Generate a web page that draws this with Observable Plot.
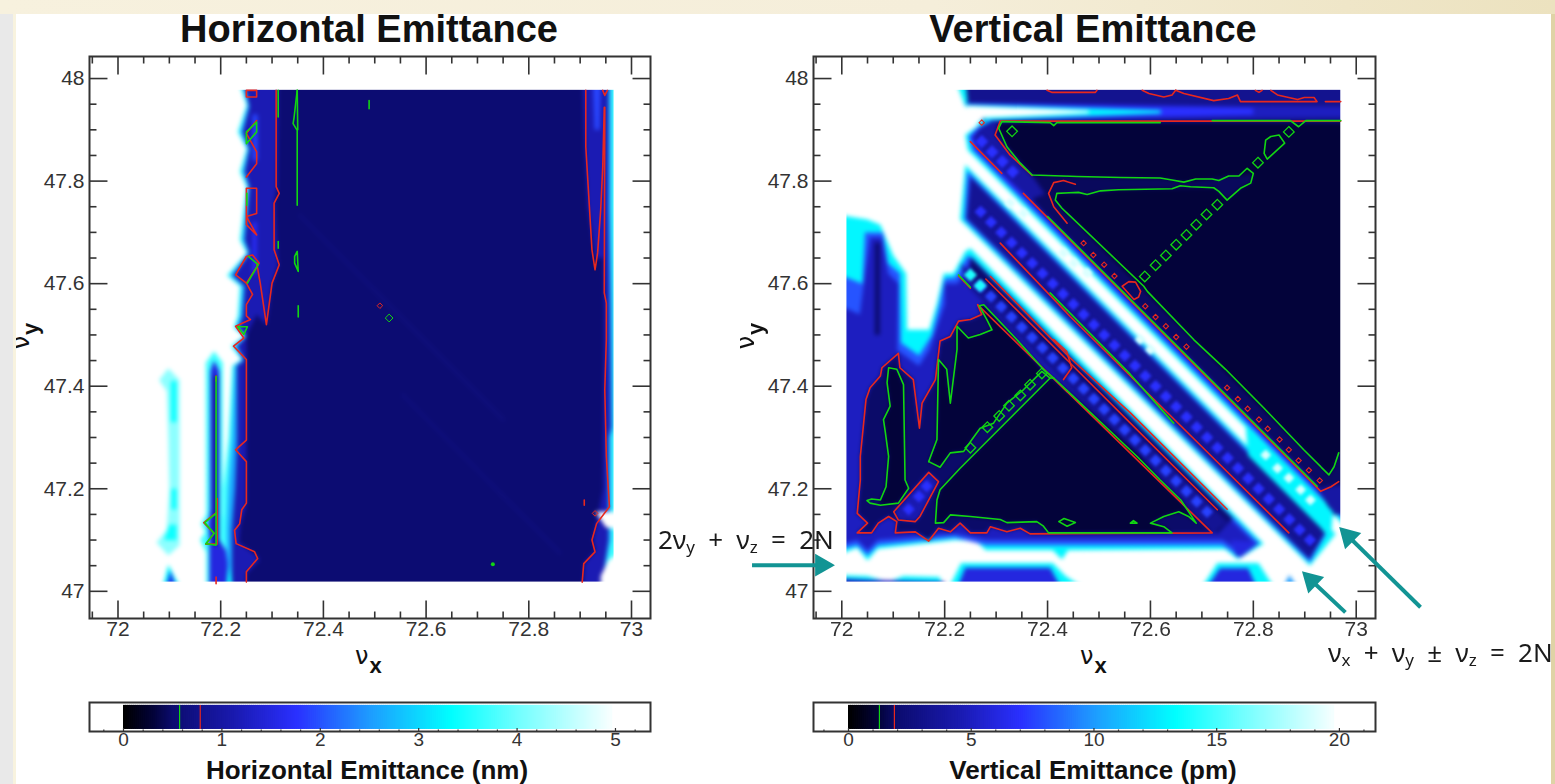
<!DOCTYPE html>
<html><head><meta charset="utf-8">
<script src="https://cdn.jsdelivr.net/npm/d3@7"></script>
<script src="https://cdn.jsdelivr.net/npm/@observablehq/plot@0.6"></script>
<style>
html,body{margin:0;padding:0;background:#fff;overflow:hidden}
#page{position:relative;width:1555px;height:784px;overflow:hidden;background:#fff;font-family:"Liberation Sans",sans-serif}
.panel{position:absolute}
.panel svg{overflow:visible;background:transparent!important}
.heat{filter:blur(2px)}
.heatL{filter:blur(2.2px)}
.dots{filter:blur(1.4px)}
.soft{filter:blur(.35px)}
.title{position:absolute;top:7px;font:bold 38px/44px "Liberation Sans";color:#111;transform:translateX(-50%);white-space:nowrap}
.barlabel{position:absolute;top:755px;font:bold 26px/30px "Liberation Sans";color:#111;transform:translateX(-50%);white-space:nowrap}
.nu{position:absolute;white-space:nowrap;color:#111}
.nu .g{font:24px "DejaVu Sans"}
.nu .s{font:bold 22px "Liberation Sans";position:relative;top:9px;margin-left:1px}
.ann{position:absolute;white-space:nowrap;font:26px/20px "Noto Sans";color:#1a1a1a;word-spacing:6.5px}
.ann sub{font-size:17px;vertical-align:-4px;line-height:0}
.strip{position:absolute;z-index:5}
</style></head><body>
<div id="page">
<div class="strip" style="left:0;top:0;width:1555px;height:14px;background:linear-gradient(90deg,#f7f1de,#f5eeda 60%,#ece2bf)"></div>
<div class="strip" style="left:0;top:14px;width:13px;height:770px;background:#e9e9e9"></div>
<div class="strip" style="left:13px;top:14px;width:3px;height:770px;background:#f8f3df"></div>
<div class="strip" style="left:1551px;top:14px;width:4px;height:770px;background:#dfd3a6"></div>
<div class="title" style="left:369px">Horizontal Emittance</div>
<div class="title" style="left:1093px">Vertical Emittance</div>
<div class="panel" id="left" style="left:0;top:0"></div>
<div class="panel" id="right" style="left:640px;top:0"></div>
<div class="panel" id="barL" style="left:0;top:690px"></div>
<div class="panel" id="barR" style="left:640px;top:690px"></div>
<div class="barlabel" style="left:367px">Horizontal Emittance (nm)</div>
<div class="barlabel" style="left:1093px">Vertical Emittance (pm)</div>
<div class="nu" style="left:355px;top:642px"><span class="g">ν</span><span class="s">x</span></div>
<div class="nu" style="left:1080px;top:642px"><span class="g">ν</span><span class="s">x</span></div>
<div class="nu" style="left:8px;top:322px;transform:rotate(-90deg)"><span class="g">ν</span><span class="s">y</span></div>
<div class="nu" style="left:733px;top:322px;transform:rotate(-90deg)"><span class="g">ν</span><span class="s">y</span></div>
<div class="ann" style="left:658px;top:529px">2ν<sub>y</sub> + ν<sub>z</sub> = 2N</div>
<div class="ann" style="left:1328px;top:642px">ν<sub>x</sub> + ν<sub>y</sub> ± ν<sub>z</sub> = 2N</div>
</div>
<script>
// ---------- colour ramps ----------
const rampColors=["#000000","#03033a","#0c0c70","#1a1ab0","#2a30ff","#1e9cff","#00ffff","#70ffff","#ffffff"];
const stopsPm=[0,1.2,2,4.5,7,10,13.3,16,20];
const stopsNm=[0,0.3,0.5,1.125,1.75,2.5,3.325,4,5];
const contourL={green:0.57,red:0.78};
const contourR={green:1.26,red:1.87};

// ---------- shared ticks ----------
const xMajor=[72,72.2,72.4,72.6,72.8,73];
const xMinor=[71.95,72.05,72.1,72.15,72.25,72.3,72.35,72.45,72.5,72.55,72.65,72.7,72.75,72.85,72.9,72.95];
const yMajor=[47,47.2,47.4,47.6,47.8,48];
const yMinor=[47.05,47.1,47.15,47.25,47.3,47.35,47.45,47.5,47.55,47.65,47.7,47.75,47.85,47.9,47.95];

// ---------- left panel: filled levels (nm) ----------
const lOuter=[[72.233,48],[72.25,47.948],[72.233,47.896],[72.25,47.863],[72.237,47.818],[72.25,47.789],[72.237,47.685],[72.25,47.66],[72.212,47.616],[72.237,47.595],[72.233,47.537],[72.225,47.514],[72.245,47.498],[72.22,47.478],[72.24,47.452],[72.222,47.44],[72.215,47.3],[72.205,47.2],[72.205,47],[73,47],[73,48]];
const lColumn=[[72.172,47],[72.172,47.075],[72.16,47.1],[72.17,47.115],[72.162,47.132],[72.172,47.15],[72.171,47.446],[72.187,47.468],[72.204,47.446],[72.204,47.15],[72.215,47.1],[72.215,47]];
const lMiddle=[[72.238,48],[72.253,47.948],[72.238,47.896],[72.253,47.863],[72.242,47.818],[72.253,47.789],[72.242,47.685],[72.253,47.66],[72.218,47.616],[72.242,47.595],[72.238,47.537],[72.23,47.514],[72.248,47.498],[72.226,47.478],[72.243,47.452],[72.227,47.44],[72.222,47.3],[72.215,47.2],[72.212,47.12],[72.212,47],[72.94,47],[72.96,47.1],[72.96,47.3],[72.965,47.32],[72.963,47.55],[72.96,47.75],[72.96,48]];
const lInner=[[72.243,48],[72.256,47.945],[72.243,47.896],[72.256,47.863],[72.247,47.818],[72.256,47.789],[72.247,47.685],[72.256,47.66],[72.224,47.616],[72.247,47.595],[72.243,47.537],[72.235,47.514],[72.25,47.498],[72.232,47.478],[72.245,47.45],[72.232,47.44],[72.232,47.3],[72.228,47.2],[72.222,47.12],[72.222,47],[72.94,47],[72.955,47.1],[72.955,47.3],[72.96,47.32],[72.958,47.55],[72.955,47.75],[72.955,48]];
const lColumnInner=[[72.178,47],[72.178,47.1],[72.176,47.13],[72.18,47.16],[72.18,47.43],[72.187,47.45],[72.197,47.43],[72.197,47.1],[72.21,47.08],[72.22,47],[72.2,47]];
const lColumnDark=[[72.185,47.42],[72.195,47.42],[72.195,47.09],[72.185,47.09]];
const lNavy=[[72.312,48],[72.31,47.79],[72.305,47.76],[72.31,47.66],[72.312,47.635],[72.3,47.6],[72.289,47.52],[72.27,47.54],[72.25,47.5],[72.25,47.17],[72.238,47.13],[72.235,47.095],[72.27,47.07],[72.275,47.06],[72.25,47.035],[72.25,47],[72.905,47],[72.908,47.054],[72.93,47.08],[72.925,47.1],[72.932,47.135],[72.945,47.2],[72.947,47.55],[72.945,47.65],[72.93,47.65],[72.915,47.75],[72.908,47.9],[72.905,48]];
const lHotLeft=[[72.262,47.93],[72.272,47.93],[72.272,47.84],[72.262,47.84]];
const lHotRight=[[72.925,47.985],[72.94,47.985],[72.938,47.9],[72.928,47.9]];
const lHotLeft2=[[72.262,47.72],[72.27,47.72],[72.27,47.62],[72.262,47.62]];
const lWhiteR1=[[72.93,47.155],[73,47.155],[73,47.115],[72.95,47.125]];
const lWhiteR2=[[72.94,47],[72.94,47.03],[72.955,47.06],[72.968,47.07],[73,47.07],[73,47]];
const lPale=[[72.08,47.412],[72.098,47.435],[72.12,47.412],[72.12,47.09],[72.098,47.07],[72.075,47.095],[72.095,47.12],[72.1,47.2],[72.098,47.3],[72.095,47.39]];
const lPale2=[[72.103,47.41],[72.114,47.41],[72.114,47.33],[72.103,47.33]];
const lPale3=[[72.104,47.2],[72.114,47.2],[72.114,47.16],[72.104,47.16]];
const lPale4=[[72.09,47.1],[72.114,47.1],[72.114,47.13],[72.1,47.13]];
const lFoot=[[72.085,47],[72.098,47.052],[72.125,47]];
const lFoot2=[[72.092,47],[72.102,47.04],[72.116,47]];
const lFootPale=[[72.21,47],[72.215,47.055],[72.225,47]];
const lFaint1=[[72.35,47.733],[72.355,47.737],[72.755,47.335],[72.75,47.33]];
const lFaint2=[[72.55,47.383],[72.555,47.387],[72.865,47.075],[72.86,47.07]];
const leftLayers=[[3.7,lOuter],[3.7,lColumn],[4.2,lPale],[3.4,lPale2],[3.4,lPale3],[3.4,lPale4],[3.3,lFoot],[1.6,lFoot2],[2.6,lMiddle],[1.15,lInner],[1.5,lColumnInner],[0.9,lColumnDark],[3.4,lFootPale],[1.9,lHotLeft],[1.7,lHotLeft2],[1.9,lHotRight],[0.52,lNavy],[0.62,lFaint1],[0.62,lFaint2],[5,lWhiteR1],[5,lWhiteR2]];

// left contours
const lRed=[
[[72.25,47.977],[72.27,47.977],[72.27,47.964],[72.25,47.964],[72.25,47.977]],
[[72.27,47.918],[72.25,47.893],[72.27,47.857],[72.27,47.834],[72.25,47.808]],
[[72.25,47.786],[72.27,47.786],[72.27,47.737],[72.25,47.731],[72.27,47.695],[72.25,47.715],[72.25,47.786]],
[[72.25,47.653],[72.262,47.656],[72.275,47.64],[72.25,47.601],[72.229,47.617],[72.25,47.653]],
[[72.308,47.977],[72.308,47.789],[72.314,47.776],[72.304,47.757],[72.304,47.666],[72.314,47.637],[72.3,47.601],[72.289,47.52],[72.277,47.601],[72.27,47.64]],
[[72.25,47.601],[72.262,47.579],[72.25,47.559],[72.25,47.537],[72.258,47.53],[72.229,47.517],[72.245,47.494],[72.225,47.478],[72.25,47.452],[72.25,47.295],[72.229,47.276],[72.25,47.253],[72.25,47.172],[72.241,47.159],[72.237,47.132],[72.227,47.119],[72.23,47.093],[72.266,47.077],[72.272,47.064],[72.25,47.038],[72.25,47.018]],
[[72.911,47.977],[72.911,47.867],[72.918,47.75],[72.923,47.666],[72.929,47.627],[72.934,47.66],[72.94,47.744],[72.944,47.828],[72.947,47.944],[72.948,47.944],[72.947,47.582],[72.951,47.562],[72.951,47.491],[72.948,47.393],[72.951,47.263],[72.957,47.165],[72.932,47.132],[72.923,47.1],[72.929,47.077],[72.907,47.054],[72.904,47.018]],
[[72.944,47.977],[72.948,47.967],[72.953,47.977]],
[[72.193,47.181],[72.193,47.092],[72.171,47.092],[72.187,47.113],[72.167,47.134],[72.191,47.153]],
[[72.191,47.42],[72.191,47.41]],
[[72.191,47.028],[72.191,47.015]],
[[72.908,47.178],[72.908,47.168]]
];
const lGreen=[
[[72.25,47.896],[72.27,47.915],[72.27,47.896],[72.25,47.873],[72.25,47.896]],
[[72.251,47.776],[72.251,47.753]],
[[72.254,47.653],[72.273,47.637],[72.252,47.601]],
[[72.233,47.516],[72.252,47.516],[72.245,47.501],[72.233,47.516]],
[[72.312,47.977],[72.312,47.925]],
[[72.312,47.682],[72.312,47.669]],
[[72.349,47.977],[72.343,47.925],[72.341,47.912],[72.349,47.899],[72.349,47.753]],
[[72.349,47.977],[72.35,47.9]],
[[72.344,47.653],[72.349,47.663],[72.351,47.624],[72.344,47.64],[72.344,47.653]],
[[72.351,47.557],[72.351,47.535]],
[[72.489,47.957],[72.489,47.941]],
[[72.191,47.419],[72.191,47.09],[72.171,47.093],[72.187,47.113],[72.169,47.134],[72.191,47.152]]
];
const lDiaG={x:[72.528],y:[47.533]};
const lDiaR={x:[72.51,72.929],y:[47.557,47.152]};
const lDotG={x:[72.73],y:[47.053]};

// ---------- right panel: filled levels (pm) ----------
const stCyan=[[72.22,48],[73,48],[73,47.91],[72.26,47.91],[72.28,47.925],[72.24,47.945]];
const stBase=[[72.24,48],[73,48],[73,47.917],[72.27,47.917],[72.285,47.93],[72.245,47.952]];
const stBlue=[[72.24,47.953],[73,47.945],[73,47.925],[72.28,47.917]];
const stBright=[[72.24,47.952],[72.8,47.942],[72.8,47.93],[72.28,47.918]];
const stCyan2=[[72.24,47.95],[72.62,47.938],[72.62,47.932],[72.28,47.918]];
const stWhite=[[72.24,47.947],[72.48,47.937],[72.48,47.933],[72.27,47.923]];
const urCyan=[[72.285,47.917],[73,47.917],[73,47.105],[72.965,47.14],[72.245,47.86],[72.24,47.89],[72.26,47.905]];
const urBlue=[[72.29,47.917],[73,47.917],[73,47.125],[72.97,47.145],[72.255,47.86],[72.247,47.887],[72.265,47.905]];
const urDark=[[72.295,47.918],[73,47.918],[73,47.15],[72.955,47.15],[72.92,47.207],[72.27,47.857],[72.255,47.885],[72.27,47.905]];
const urCorridor=[[72.305,47.916],[73,47.916],[73,47.21],[72.95,47.205],[72.93,47.2],[72.4,47.73],[72.37,47.765],[72.395,47.775],[72.37,47.811],[72.298,47.89]];
const urNavy=[[72.311,47.914],[73,47.914],[73,47.25],[72.966,47.27],[72.957,47.243],[72.947,47.227],[72.428,47.747],[72.37,47.812],[72.347,47.835],[72.321,47.867],[72.305,47.903]];
const corridor=[[72.37,47.812],[72.457,47.809],[72.542,47.807],[72.619,47.806],[72.665,47.798],[72.72,47.804],[72.752,47.81],[72.772,47.81],[72.8,47.815],[72.795,47.796],[72.775,47.786],[72.749,47.763],[72.723,47.787],[72.642,47.785],[72.538,47.783],[72.477,47.774],[72.418,47.776],[72.415,47.763],[72.428,47.747]];
const dbCyan=[[72.24,47.832],[72.96,47.112],[72.91,47.05],[72.23,47.725]];
const dbBlue=[[72.244,47.82],[72.945,47.119],[72.91,47.056],[72.238,47.725]];
const dbDark=[[72.25,47.808],[72.941,47.117],[72.909,47.063],[72.243,47.727]];
const trCyan=[[72.785,47.325],[72.955,47.155],[72.95,47.1],[72.93,47.125],[72.79,47.265]];
const lbCyan=[[71.99,47.735],[72.05,47.725],[72.075,47.715],[72.1,47.655],[72.125,47.62],[72.127,47.51],[72.17,47.51],[72.185,47.562],[72.198,47.62],[72.217,47.62],[72.24,47.663],[72.25,47.669],[72.82,47.093],[72.77,47.062],[72.745,47.082],[72.44,47.08],[72.428,47.062],[72.41,47.08],[72.28,47.08],[72.26,47.098],[72.22,47.1],[72.07,47.083],[72.05,47.06],[72.03,47.085],[71.99,47.07]];
const lbBlue=[[71.99,47.62],[72.04,47.6],[72.045,47.7],[72.08,47.7],[72.09,47.64],[72.113,47.62],[72.115,47.485],[72.15,47.46],[72.175,47.5],[72.19,47.56],[72.2,47.61],[72.22,47.612],[72.245,47.655],[72.255,47.65],[72.81,47.095],[72.77,47.07],[72.74,47.09],[72.28,47.09],[72.22,47.105],[72.07,47.09],[72.05,47.07],[72.03,47.09],[71.99,47.08]];
const lbDeep=[[71.99,47.56],[72.035,47.54],[72.055,47.69],[72.078,47.69],[72.09,47.62],[72.11,47.6],[72.108,47.47],[72.15,47.44],[72.17,47.47],[72.2,47.56],[72.2,47.6],[72.225,47.6],[72.25,47.645],[72.8,47.097],[72.77,47.08],[72.74,47.1],[72.28,47.1],[72.22,47.112],[72.07,47.1],[72.05,47.08],[72.03,47.1],[71.99,47.09]];
const lbColumn=[[72.064,47.68],[72.074,47.68],[72.074,47.5],[72.064,47.5]];
const lbThin=[[72.25,47.652],[72.76,47.142],[72.73,47.112],[72.25,47.59]];
const lbBand=[[72.23,47.64],[72.75,47.135],[72.72,47.112],[72.25,47.59]];
const redBlock=[[72.03,47.114],[72.058,47.114],[72.071,47.133],[72.091,47.146],[72.107,47.136],[72.104,47.114],[72.143,47.116],[72.169,47.098],[72.188,47.123],[72.211,47.116],[72.23,47.133],[72.25,47.114],[72.282,47.114],[72.289,47.126],[72.321,47.116],[72.347,47.123],[72.366,47.112],[72.72,47.114],[72.264,47.559],[72.272,47.54],[72.25,47.53],[72.227,47.527],[72.211,47.497],[72.191,47.488],[72.182,47.413],[72.156,47.367],[72.151,47.318],[72.139,47.413],[72.113,47.436],[72.11,47.464],[72.078,47.436],[72.075,47.42],[72.055,47.397],[72.047,47.374],[72.036,47.263],[72.036,47.217],[72.03,47.152],[72.05,47.133]];
const pocket=[[72.101,47.155],[72.169,47.232],[72.188,47.214],[72.152,47.146],[72.143,47.136],[72.11,47.139]];
const triMain=[[72.405,47.416],[72.246,47.256],[72.23,47.24],[72.191,47.198],[72.185,47.178],[72.182,47.133],[72.198,47.134],[72.211,47.149],[72.25,47.146],[72.308,47.14],[72.321,47.134],[72.379,47.136],[72.392,47.127],[72.402,47.114],[72.642,47.114],[72.626,47.126],[72.6,47.133],[72.626,47.146],[72.655,47.155],[72.674,47.146],[72.689,47.133],[72.659,47.178],[72.619,47.217],[72.574,47.27],[72.412,47.416]];
const triUpper=[[72.169,47.253],[72.185,47.296],[72.188,47.452],[72.204,47.433],[72.211,47.367],[72.224,47.472],[72.224,47.517],[72.246,47.494],[72.269,47.501],[72.292,47.51],[72.282,47.53],[72.267,47.557],[72.276,47.559],[72.34,47.491],[72.392,47.433],[72.412,47.416],[72.389,47.429],[72.353,47.393],[72.321,47.367],[72.295,47.328],[72.269,47.318],[72.253,47.296],[72.237,47.273],[72.211,47.27],[72.191,47.242]];
const triPocket=[[72.091,47.436],[72.107,47.433],[72.12,47.403],[72.123,47.217],[72.13,47.201],[72.11,47.172],[72.075,47.168],[72.075,47.178],[72.086,47.204],[72.091,47.263],[72.084,47.315],[72.081,47.335],[72.094,47.361],[72.088,47.407]];
const botA13=[[72.205,47],[72.232,47.055],[72.41,47.055],[72.435,47.03],[72.48,47]];
const botA6=[[72.222,47],[72.24,47.046],[72.405,47.046],[72.43,47]];
const botB13=[[72.695,47],[72.73,47.055],[72.81,47.055],[72.845,47]];
const botB6=[[72.705,47],[72.735,47.045],[72.79,47.045],[72.81,47]];
const botC=[[72.855,47],[72.87,47.032],[72.89,47]];
const botD13=[[71.99,47],[71.99,47.032],[72.05,47.03],[72.09,47.018],[72.12,47.03],[72.19,47.028],[72.2,47]];
const botD5=[[71.99,47],[71.99,47.025],[72.05,47.022],[72.2,47.018],[72.2,47]];
const bumpBlue=[[72.756,47.1],[72.813,47.095],[72.775,47.066],[72.765,47.07]];
const rightLayers=[[13,stCyan],[3.2,stBase],[5,stBlue],[7,stBright],[13,stCyan2],[20,stWhite],[13,urCyan],[7,urBlue],[4,urDark],[1.8,urCorridor],[1.2,urNavy],[1.7,corridor],
[13,dbCyan],[8,dbBlue],[3.4,dbDark],[13,trCyan],
[13,lbCyan],[8,lbBlue],[5,lbDeep],[2,lbThin],[3.4,lbBand],[2,lbColumn],[1.9,redBlock],[4.5,pocket],[1.2,triMain],[1.2,triUpper],[1.2,triPocket],[6,bumpBlue],
[13,botA13],[6,botA6],[13,botB13],[6,botB6],[10,botC],[13,botD13],[5,botD5]];

// brighter diamonds in the resonance bands
const diaUpperX=[72.27,72.29,72.31,72.33,72.35,72.37,72.39,72.41,72.43,72.45,72.47,72.49,72.51,72.53,72.55,72.57,72.59,72.61,72.63,72.65,72.67,72.69,72.71,72.73,72.75,72.77,72.79,72.81,72.83,72.85,72.87,72.89,72.91];
const diaUpperY=[47.74,47.72,47.7,47.68,47.66,47.64,47.62,47.6,47.58,47.56,47.54,47.52,47.5,47.48,47.46,47.44,47.42,47.4,47.38,47.36,47.34,47.32,47.3,47.28,47.26,47.24,47.22,47.2,47.18,47.16,47.14,47.12,47.1];
const diaLowerX=[72.27,72.29,72.31,72.33,72.35,72.37,72.39,72.41,72.43,72.45,72.47,72.49,72.51,72.53,72.55,72.57,72.59,72.61,72.63,72.65,72.67,72.69,72.71];
const diaLowerY=[47.595,47.575,47.555,47.535,47.515,47.495,47.475,47.455,47.435,47.415,47.395,47.375,47.355,47.335,47.315,47.295,47.275,47.255,47.235,47.215,47.195,47.175,47.155];
const diaTopX=[72.272,72.292,72.312,72.332];
const diaTopY=[47.877,47.857,47.838,47.818];
const diaCyanX=[72.25,72.269];
const diaCyanY=[47.617,47.596];
const diaWhiteX=[72.824,72.847,72.869,72.892,72.911,72.327,72.353,72.431,72.451,72.477,72.58,72.6];
const diaWhiteY=[47.266,47.24,47.221,47.198,47.178,47.757,47.737,47.66,47.64,47.621,47.491,47.471];
const pocketDotX=[72.13,72.15,72.165];
const pocketDotY=[47.16,47.185,47.205];

// right contours
const rRed=[
[[72.399,47.977],[72.409,47.973],[72.493,47.973],[72.496,47.977]],
[[72.584,47.977],[72.597,47.971],[72.626,47.964],[72.642,47.968],[72.649,47.977]],
[[72.649,47.977],[72.665,47.971],[72.723,47.957],[72.752,47.961],[72.769,47.968],[72.775,47.955],[72.924,47.955],[72.918,47.963],[72.899,47.963],[72.886,47.959],[72.847,47.968],[72.834,47.977]],
[[72.804,47.977],[72.811,47.973],[72.817,47.977]],
[[72.94,47.955],[72.97,47.955]],
[[72.97,47.917],[72.308,47.917],[72.298,47.89],[72.327,47.851],[72.37,47.811]],
[[72.454,47.794],[72.431,47.801],[72.412,47.797],[72.402,47.776],[72.412,47.75],[72.438,47.718]],
[[72.25,47.877],[72.311,47.815]],
[[72.353,47.776],[72.931,47.195],[72.951,47.204],[72.966,47.214]],
[[72.03,47.114],[72.05,47.133],[72.03,47.152],[72.036,47.217],[72.036,47.263],[72.047,47.374],[72.055,47.397],[72.075,47.42],[72.078,47.436],[72.11,47.464],[72.113,47.436],[72.139,47.413],[72.151,47.318],[72.156,47.367],[72.182,47.413],[72.191,47.488],[72.211,47.497],[72.227,47.527],[72.25,47.53],[72.272,47.54],[72.264,47.559],[72.72,47.114],[72.366,47.112],[72.347,47.123],[72.321,47.116],[72.289,47.126],[72.282,47.114],[72.25,47.114],[72.23,47.133],[72.211,47.116],[72.188,47.123],[72.169,47.098],[72.143,47.116],[72.104,47.114],[72.107,47.136],[72.091,47.146],[72.071,47.133],[72.058,47.114],[72.03,47.114]],
[[72.101,47.155],[72.169,47.232],[72.188,47.214],[72.152,47.146],[72.143,47.136],[72.11,47.139],[72.101,47.155]],
[[72.289,47.614],[72.444,47.455],[72.561,47.348],[72.749,47.16]],
[[72.28,47.609],[72.431,47.458],[72.561,47.328],[72.73,47.159]],
[[72.431,47.413],[72.447,47.436],[72.437,47.468],[72.412,47.491]],
[[72.308,47.679],[72.444,47.536],[72.704,47.278],[72.869,47.114]],
[[72.545,47.595],[72.558,47.604],[72.571,47.603],[72.581,47.585],[72.577,47.574],[72.568,47.569],[72.545,47.595]],
[[72.227,47.615],[72.25,47.591]]
];
const rGreen=[
[[72.311,47.916],[72.405,47.914],[72.412,47.908],[72.418,47.914],[72.619,47.914]],
[[72.72,47.918],[72.872,47.918],[72.888,47.906],[72.902,47.918],[72.97,47.918]],
[[72.311,47.916],[72.305,47.903],[72.321,47.867],[72.347,47.835],[72.37,47.812],[72.457,47.809],[72.542,47.807],[72.619,47.806],[72.642,47.802],[72.665,47.798],[72.688,47.804],[72.72,47.804],[72.733,47.801],[72.752,47.81],[72.772,47.81],[72.788,47.825],[72.8,47.815],[72.795,47.796],[72.775,47.786],[72.749,47.763],[72.733,47.78],[72.723,47.787],[72.678,47.789],[72.658,47.791],[72.642,47.785],[72.538,47.783],[72.503,47.781],[72.477,47.774],[72.46,47.778],[72.418,47.776],[72.415,47.763],[72.428,47.747],[72.587,47.595],[72.594,47.585],[72.684,47.491],[72.746,47.433],[72.82,47.358],[72.898,47.276],[72.947,47.227],[72.957,47.243],[72.966,47.27]],
[[72.821,47.854],[72.824,47.88],[72.834,47.887],[72.85,47.89],[72.861,47.874],[72.827,47.843],[72.821,47.854]],
[[72.169,47.253],[72.191,47.242],[72.211,47.27],[72.237,47.273],[72.253,47.296],[72.269,47.318],[72.295,47.328],[72.321,47.367],[72.353,47.393],[72.389,47.429],[72.405,47.416]],
[[72.246,47.256],[72.23,47.24],[72.191,47.198],[72.185,47.178],[72.182,47.133],[72.198,47.134],[72.211,47.149],[72.25,47.146],[72.308,47.14],[72.321,47.134],[72.379,47.136],[72.392,47.127],[72.402,47.114],[72.642,47.114],[72.626,47.126],[72.6,47.133],[72.626,47.146],[72.655,47.155],[72.674,47.146],[72.689,47.133],[72.659,47.178],[72.619,47.217],[72.574,47.263],[72.412,47.416],[72.405,47.416],[72.246,47.256]],
[[72.422,47.136],[72.432,47.142],[72.454,47.134],[72.438,47.127],[72.422,47.136]],
[[72.561,47.133],[72.567,47.138],[72.574,47.133],[72.561,47.133]],
[[72.091,47.436],[72.107,47.433],[72.12,47.403],[72.123,47.217],[72.13,47.201],[72.11,47.172],[72.075,47.168],[72.055,47.172],[72.049,47.177],[72.058,47.18],[72.075,47.178],[72.086,47.204],[72.091,47.263],[72.084,47.315],[72.081,47.335],[72.094,47.361],[72.088,47.407],[72.091,47.436]],
[[72.169,47.253],[72.185,47.296],[72.188,47.452],[72.204,47.433],[72.211,47.367],[72.224,47.472],[72.224,47.517],[72.246,47.494],[72.269,47.501],[72.292,47.51],[72.282,47.53],[72.267,47.557],[72.276,47.559],[72.34,47.491],[72.392,47.433],[72.412,47.416]],
[[72.405,47.582],[72.561,47.423],[72.645,47.328]],
[[72.4,47.731],[72.924,47.205]],
[[72.227,47.617],[72.25,47.593]]
];
const rDiaGx=[72.589,72.61,72.63,72.65,72.67,72.689,72.709,72.73,72.809,72.869,72.331,72.389,72.366,72.347,72.325,72.306,72.283,72.25];
const rDiaGy=[47.614,47.636,47.655,47.676,47.695,47.715,47.735,47.754,47.836,47.896,47.897,47.425,47.403,47.382,47.362,47.342,47.32,47.28];
const rDiaRx=[72.47,72.489,72.51,72.53,72.59,72.61,72.63,72.65,72.67,72.749,72.77,72.789,72.811,72.828,72.851,72.869,72.888,72.908,72.929,72.272];
const rDiaRy=[47.679,47.656,47.637,47.615,47.556,47.535,47.517,47.496,47.477,47.397,47.375,47.356,47.335,47.317,47.296,47.276,47.255,47.236,47.216,47.914];

// annotation arrows (values in axis units, outside the domain where they leave the frame)
const arrows=[
 {x1:71.8255,y1:47.051,x2:71.961,y2:47.051,rot:90},
 {x1:72.979,y1:46.959,x2:72.913,y2:47.021,rot:-46},
 {x1:73.125,y1:46.969,x2:72.985,y2:47.107,rot:-45}
];
const arrowTeal="#129494", redC="#e8281e", greenC="#12d612", frameC="#333";

// colour bars
const barL={dom:[-0.3455,5.356],max:4.95,step:0.02,major:[0,1,2,3,4,5],minor:[0.2,0.4,0.6,0.8,1.2,1.4,1.6,1.8,2.2,2.4,2.6,2.8,3.2,3.4,3.6,3.8,4.2,4.4,4.6,4.8,-0.2,5.2]};
const barR={dom:[-1.426,21.47],max:19.7,step:0.08,major:[0,5,10,15,20],minor:[1,2,3,4,6,7,8,9,11,12,13,14,16,17,18,19,-1,21]};

function polyRows(layers){const out=[];layers.forEach(([v,p],i)=>p.forEach(([x,y])=>out.push({x,y,v,id:i})));return out;}
function lineRows(lines){const out=[];lines.forEach((p,i)=>p.forEach(([x,y])=>out.push({x,y,id:i})));return out;}
function zip(xs,ys,v){return xs.map((x,i)=>({x,y:ys[i],v}));}

const tickFont={fontFamily:"'Liberation Sans Narrow','Liberation Sans',sans-serif",fill:"#333"};

function axesMarks(xd,yd){
  const [x0,x1]=xd,[y0,y1]=yd,ux=(x1-x0)/562,uy=(y1-y0)/562;
  const vert=(t,l)=>[Plot.link(t,{x1:d=>d,x2:d=>d,y1:y0,y2:y0+l*uy,stroke:frameC,strokeWidth:1.6}),Plot.link(t,{x1:d=>d,x2:d=>d,y1:y1,y2:y1-l*uy,stroke:frameC,strokeWidth:1.6})];
  const hori=(t,l)=>[Plot.link(t,{y1:d=>d,y2:d=>d,x1:x0,x2:x0+l*ux,stroke:frameC,strokeWidth:1.6}),Plot.link(t,{y1:d=>d,y2:d=>d,x1:x1,x2:x1-l*ux,stroke:frameC,strokeWidth:1.6})];
  return [...vert(xMajor,18),...vert(xMinor,7),...hori(yMajor,18),...hori(yMinor,7),
   Plot.axisX({ticks:xMajor,tickSize:0,tickPadding:3,fontSize:21,label:null,tickFormat:d=>String(d)}),
   Plot.axisY({ticks:yMajor,tickSize:0,tickPadding:5,fontSize:21,label:null,tickFormat:d=>String(d)}),
   Plot.frame({stroke:frameC,strokeWidth:2})];
}
function masks(xd,yd,e){
  return Plot.rect([
    {x1:xd[0],x2:e.x0,y1:yd[0],y2:yd[1]},{x1:e.x1,x2:xd[1],y1:yd[0],y2:yd[1]},
    {x1:xd[0],x2:xd[1],y1:yd[0],y2:e.y0},{x1:xd[0],x2:xd[1],y1:e.y1,y2:yd[1]}
  ],{x1:"x1",x2:"x2",y1:"y1",y2:"y2",fill:"white"});
}
const contourMarks=(red,green)=>[
  Plot.line(lineRows(red),{x:"x",y:"y",z:"id",stroke:redC,strokeWidth:1.6,curve:"linear"}),
  Plot.line(lineRows(green),{x:"x",y:"y",z:"id",stroke:greenC,strokeWidth:1.6,curve:"linear"})
];
function tagGroups(svg,heatClass,dotCount){
  const lines=svg.querySelectorAll('g[aria-label="line"]');
  lines[0].classList.add(heatClass);
  lines[1].classList.add("soft"); lines[2].classList.add("soft");
  const dots=svg.querySelectorAll('g[aria-label="dot"]');
  for(let i=0;i<dotCount;i++) dots[i].classList.add("dots");
}

const xdL=[71.9445,73.037],ydL=[46.947,48.043];
const left=Plot.plot({width:670,height:680,marginLeft:89,marginRight:20,marginTop:56,marginBottom:62,
  x:{domain:xdL},y:{domain:ydL},
  color:{type:"linear",domain:stopsNm,range:rampColors,interpolate:"rgb"},
  style:{background:"transparent",overflow:"visible",...tickFont},
  marks:[
    Plot.line(polyRows(leftLayers),{x:"x",y:"y",z:"id",fill:"v",curve:"linear"}),
    masks(xdL,ydL,{x0:72.01,x1:72.966,y0:47.018,y1:47.977}),
    ...contourMarks(lRed,lGreen),
    Plot.dot(zip(lDiaG.x,lDiaG.y),{x:"x",y:"y",symbol:"diamond2",r:3.5,stroke:greenC,strokeWidth:1}),
    Plot.dot(zip(lDiaR.x,lDiaR.y),{x:"x",y:"y",symbol:"diamond2",r:2.5,stroke:redC,strokeWidth:1}),
    Plot.dot(zip(lDotG.x,lDotG.y),{x:"x",y:"y",r:2,fill:greenC}),
    ...axesMarks(xdL,ydL)
  ]});
tagGroups(left,"heatL",0);
document.getElementById("left").append(left);

const xdR=[71.945,73.0375],ydR=[46.947,48.043];
const right=Plot.plot({width:915,height:680,marginLeft:173,marginRight:180,marginTop:56,marginBottom:62,
  x:{domain:xdR},y:{domain:ydR},
  color:{type:"linear",domain:stopsPm,range:rampColors,interpolate:"rgb"},
  style:{background:"transparent",overflow:"visible",...tickFont},
  marks:[
    Plot.line(polyRows(rightLayers),{x:"x",y:"y",z:"id",fill:"v",curve:"linear"}),
    Plot.dot(zip(diaUpperX,diaUpperY,7),{x:"x",y:"y",fill:"v",symbol:"diamond2",r:5.6}),
    Plot.dot(zip(diaLowerX,diaLowerY,7.5),{x:"x",y:"y",fill:"v",symbol:"diamond2",r:5.6}),
    Plot.dot(zip(diaTopX,diaTopY,7),{x:"x",y:"y",fill:"v",symbol:"diamond2",r:6}),
    Plot.dot(zip(diaCyanX,diaCyanY,14),{x:"x",y:"y",fill:"v",symbol:"diamond2",r:6}),
    Plot.dot(zip(diaWhiteX,diaWhiteY,19),{x:"x",y:"y",fill:"v",symbol:"diamond2",r:5}),
    Plot.dot(zip(pocketDotX,pocketDotY,7),{x:"x",y:"y",fill:"v",symbol:"diamond2",r:5.5}),
    masks(xdR,ydR,{x0:72.01,x1:72.97,y0:47.018,y1:47.977}),
    ...contourMarks(rRed,rGreen),
    Plot.dot(zip(rDiaGx,rDiaGy),{x:"x",y:"y",symbol:"diamond2",r:4.8,stroke:greenC,strokeWidth:1.3}),
    Plot.dot(zip(rDiaRx,rDiaRy),{x:"x",y:"y",symbol:"diamond2",r:2.4,stroke:redC,strokeWidth:1.1}),
    ...axesMarks(xdR,ydR),
    Plot.link(arrows,{x1:"x1",y1:"y1",x2:"x2",y2:"y2",stroke:arrowTeal,strokeWidth:4}),
    Plot.dot(arrows,{x:"x2",y:"y2",symbol:"triangle",r:8.5,fill:arrowTeal,rotate:"rot"})
  ]});
tagGroups(right,"heat",6);
document.getElementById("right").append(right);

function colorBar(cfg,stops,width,ml,mr,contours){
  const vals=d3.range(0,cfg.max,cfg.step);
  return Plot.plot({width,height:90,marginLeft:ml,marginRight:mr,marginTop:12,marginBottom:49,
    x:{domain:cfg.dom},y:{domain:[0,1],axis:null},
    color:{type:"linear",domain:stops,range:rampColors,interpolate:"rgb"},
    style:{background:"transparent",overflow:"visible",...tickFont},
    marks:[
      Plot.rect(vals,{x1:d=>d,x2:d=>d+cfg.step*1.6,y1:0.07,y2:0.9,fill:d=>d}),
      Plot.ruleX([contours.green],{y1:0.07,y2:0.9,stroke:greenC,strokeWidth:1.2}),
      Plot.ruleX([contours.red],{y1:0.07,y2:0.9,stroke:redC,strokeWidth:1.2}),
      Plot.link(cfg.major,{x1:d=>d,x2:d=>d,y1:0,y2:0.12,stroke:frameC,strokeWidth:1.2}),
      Plot.link(cfg.minor,{x1:d=>d,x2:d=>d,y1:0,y2:0.07,stroke:frameC,strokeWidth:1.2}),
      Plot.axisX({ticks:cfg.major,tickSize:0,tickPadding:1,fontSize:19,label:null,tickFormat:d=>String(d)}),
      Plot.frame({stroke:frameC,strokeWidth:2})
    ]});
}
document.getElementById("barL").append(colorBar(barL,stopsNm,670,89,20,contourL));
document.getElementById("barR").append(colorBar(barR,stopsPm,915,173,180,contourR));
</script>
</body></html>
